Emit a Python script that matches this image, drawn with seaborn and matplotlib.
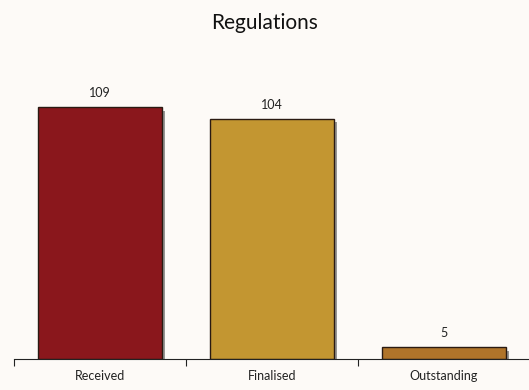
import matplotlib
matplotlib.use("Agg")
import matplotlib.pyplot as plt
import matplotlib.patheffects as pe
import seaborn as sns
import pandas as pd

categories = ["Received", "Finalised", "Outstanding"]
values = [109, 104, 5]
colors = ["#8A171C", "#C39631", "#B0742A"]
title = "Regulations"

sns.set_theme(style="white")
plt.rcParams["font.family"] = ["Lato", "DejaVu Sans"]

bg = "#FDFAF7"
df = pd.DataFrame({"category": categories, "value": values})

fig = plt.figure(figsize=(5.29, 3.90), dpi=100, facecolor=bg)
ax = fig.add_axes([14 / 529, 31 / 390, 516 / 529, 300 / 390])
ax.set_facecolor(bg)

sns.barplot(data=df, x="category", y="value", hue="category",
            palette=colors, saturation=1, width=0.72,
            edgecolor="#2a1a12", linewidth=1.0, legend=False, ax=ax)

shadow = [pe.SimplePatchShadow(offset=(2.5, -2.5), shadow_rgbFace="black", alpha=0.4),
          pe.Normal()]
for p in ax.patches:
    p.set_path_effects(shadow)

for c in ax.containers:
    ax.bar_label(c, labels=[f"{v:.0f}" for v in c.datavalues], padding=6,
                 fontsize=9, color="#222222")

ax.set_ylim(0, 130)
ax.set_xlim(-0.5, 2.5)
ax.set_xlabel("")
ax.set_ylabel("")
ax.set_yticks([])
ax.set_xticks([0, 1, 2])
ax.set_xticklabels(categories, fontsize=9, color="#222222")
ax.set_xticks([-0.5, 0.5, 1.5, 2.5], minor=True)
ax.tick_params(axis="x", which="major", length=0, pad=8)
ax.tick_params(axis="x", which="minor", length=5, width=0.8, color="#222222",
               bottom=True, direction="out")

for side in ["top", "right", "left"]:
    ax.spines[side].set_visible(False)
ax.spines["bottom"].set_color("#222222")
ax.spines["bottom"].set_linewidth(0.8)

fig.text(0.5, 1 - 23 / 390, title, ha="center", va="center",
         fontsize=15, fontweight="normal", color="#111111")

fig.savefig("out.png", dpi=100, facecolor=bg)
